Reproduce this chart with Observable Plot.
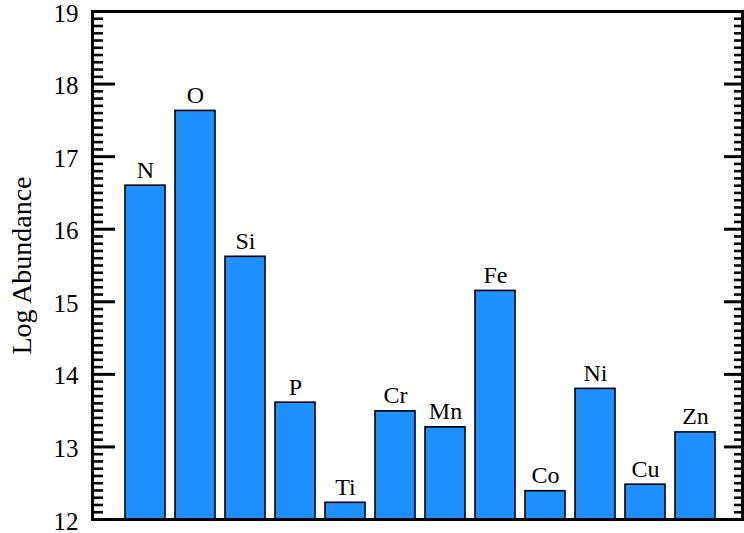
<!DOCTYPE html>
<html>
<head>
<meta charset="utf-8">
<script src="https://cdn.jsdelivr.net/npm/d3@7"></script>
<script src="https://cdn.jsdelivr.net/npm/@observablehq/plot@0.6"></script>
<style>
  html, body { margin: 0; padding: 0; background: #fff; }
  #chart svg { display: block; }
</style>
</head>
<body>
<div id="chart"></div>
<script>
const elements = ["N", "O", "Si", "P", "Ti", "Cr", "Mn", "Fe", "Co", "Ni", "Cu", "Zn"];
const abundance = [16.60, 17.63, 15.62, 13.61, 12.23, 13.49, 13.27, 15.15, 12.39, 13.80, 12.48, 13.20];
const majorTicks = [12, 13, 14, 15, 16, 17, 18, 19];
const yLabel = "Log Abundance";

const data = elements.map((e, i) => ({el: e, v: abundance[i]}));
const minorTicks = d3.range(120, 190).filter(d => d % 10 !== 0).map(d => d / 10);

const W = 744, H = 533, mL = 92, mR = 2, mT = 11, mB = 14;
const fw = W - mL - mR;
const FONT = "Liberation Serif";

const chart = Plot.plot({
  width: W,
  height: H,
  marginLeft: mL,
  marginRight: mR,
  marginTop: mT,
  marginBottom: mB,
  style: {fontFamily: FONT, background: "#fff"},
  x: {domain: elements, range: [116.7, 724.3], paddingInner: 0.2, paddingOuter: 0.1, axis: null},
  y: {domain: [12, 19], axis: null},
  marks: [
    Plot.barY(data, {x: "el", y1: 12, y2: "v", fill: "#1E90FF", stroke: "#000", strokeWidth: 1.6}),
    Plot.text(data, {x: "el", y: "v", text: "el", lineAnchor: "bottom", dy: -8, fontSize: 24, fontFamily: FONT, fill: "#000"}),
    // left ticks
    Plot.ruleY(minorTicks, {y: d => d, insetRight: fw - 11, stroke: "#000", strokeWidth: 2.6}),
    Plot.ruleY(majorTicks, {y: d => d, insetRight: fw - 23, stroke: "#000", strokeWidth: 3}),
    // right ticks
    Plot.ruleY(minorTicks, {y: d => d, insetLeft: fw - 8, stroke: "#000", strokeWidth: 2.6}),
    Plot.ruleY(majorTicks, {y: d => d, insetLeft: fw - 18, stroke: "#000", strokeWidth: 3}),
    Plot.axisY(majorTicks, {ticks: majorTicks, tickSize: 0, tickPadding: 14, dy: 2, fontSize: 25, fontFamily: FONT, label: null, tickFormat: d => String(d)}),
    Plot.text([yLabel], {frameAnchor: "left", text: d => d, textAnchor: "middle", rotate: -90, dx: -70, fontSize: 28, fontFamily: FONT, fill: "#000"}),
    Plot.frame({stroke: "#000", strokeWidth: 3})
  ]
});
document.getElementById("chart").appendChild(chart);
</script>
</body>
</html>
